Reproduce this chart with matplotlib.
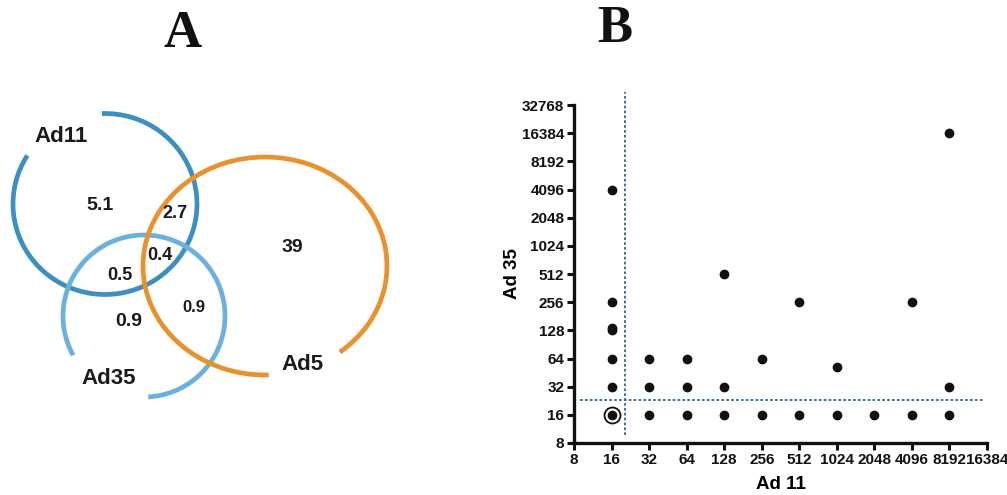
import numpy as np
import matplotlib
matplotlib.use("Agg")
import matplotlib.pyplot as plt
from matplotlib.patches import Arc

plt.rcParams['font.family'] = ['Liberation Sans', 'DejaVu Sans']

# Venn (panel A) - sets and region percentages
set_names = ['Ad11', 'Ad35', 'Ad5']
set_colors = ['#3d8fc0', '#6cb1dd', '#e8922e']
region_labels = ['5.1', '2.7', '0.4', '0.5', '39', '0.9', '0.9']

# Scatter (panel B) - titers
ad11 = [16, 16, 16, 16, 16, 16, 16,
        32, 32, 32,
        64, 64, 64,
        128, 128, 128,
        256, 256,
        512, 512,
        1024, 1024,
        2048,
        4096, 4096,
        8192, 8192, 8192]
ad35 = [4096, 256, 128, 136, 64, 32, 16,
        64, 32, 16,
        64, 32, 16,
        512, 32, 16,
        64, 16,
        256, 16,
        52, 16,
        16,
        256, 16,
        16384, 32, 16]
cutoff_x = 20.5
cutoff_y = 23
x_ticks = [8, 16, 32, 64, 128, 256, 512, 1024, 2048, 4096, 8192, 16384]
y_ticks = [8, 16, 32, 64, 128, 256, 512, 1024, 2048, 4096, 8192, 16384, 32768]

W, H = 1007, 495
fig = plt.figure(figsize=(W / 100, H / 100), dpi=100)

# ---- panel A, drawn in pixel coordinates (y up) ----
axv = fig.add_axes([0, 0, 1, 1])
axv.set_xlim(0, W)
axv.set_ylim(0, H)
axv.axis('off')

# (cx, cy, w, h, theta1, theta2) in pixels
arcs = [(105, H - 204, 184, 181, 148, 452),
        (144, H - 316, 162, 162, -87, 209),
        (265, H - 266, 244, 218, -49, 272)]
for (cx, cy, w, h, t1, t2), col in zip(arcs, set_colors):
    axv.add_patch(Arc((cx, cy), w, h, theta1=t1, theta2=t2,
                      color=col, lw=3.4))

name_pos = [(61, 136), (109, 378), (303, 365)]
for name, (x, y) in zip(set_names, name_pos):
    axv.text(x, H - y, name, ha='center', va='center',
             fontsize=16, fontweight='bold', color='#1a1a1a')

region_pos = [(100, 205), (175, 213), (160, 255), (120, 275),
              (292, 248), (129, 322), (194, 307)]
region_size = [14, 13, 13, 13, 14, 14, 12]
for lab, (x, y), fs in zip(region_labels, region_pos, region_size):
    axv.text(x, H - y, lab, ha='center', va='center',
             fontsize=fs, fontweight='bold', color='#1a1a1a')

axv.text(183, H - 34, 'A', ha='center', va='center', fontsize=38,
         fontweight='bold', family='Liberation Serif', color='#111')
axv.text(615, H - 29, 'B', ha='center', va='center', fontsize=38,
         fontweight='bold', family='Liberation Serif', color='#111')

# ---- panel B ----
ax = fig.add_axes([574 / W, 52 / H, 413 / W, 338 / H])
ax.set_xscale('log', base=2)
ax.set_yscale('log', base=2)
ax.set_xlim(8, 16384)
ax.set_ylim(8, 32768)

ax.plot(ad11, ad35, 'o', color='#111', ms=6, mec='#111', zorder=3,
        clip_on=False)
# circled point
ax.plot([16], [16], 'o', ms=11.5, mfc='none', mec='#111', mew=1.3,
        zorder=3)

dash_col = '#2a6a86'
ax.plot([cutoff_x, cutoff_x], [9.7, 45000], color=dash_col, lw=1.3,
        ls=(0, (1.5, 1.2)), clip_on=False, zorder=2)
ax.plot([8.9, 15200], [cutoff_y, cutoff_y], color=dash_col, lw=1.3,
        ls=(0, (1.5, 1.2)), clip_on=False, zorder=2)

for s in ['top', 'right']:
    ax.spines[s].set_visible(False)
for s in ['left', 'bottom']:
    ax.spines[s].set_linewidth(2.4)
    ax.spines[s].set_color('#111')

ax.set_xticks(x_ticks)
ax.set_xticklabels([str(t) for t in x_ticks])
ax.set_yticks(y_ticks)
ax.set_yticklabels([str(t) for t in y_ticks])
ax.minorticks_off()
ax.tick_params(axis='both', length=5, width=2.2, color='#111', pad=2,
               labelsize=11)
for lab in ax.get_xticklabels() + ax.get_yticklabels():
    lab.set_fontweight('bold')
    lab.set_color('#111')

ax.set_xlabel('Ad 11', fontsize=13.5, fontweight='bold', labelpad=7)
ax.set_ylabel('Ad 35', fontsize=13.5, fontweight='bold', labelpad=1)

fig.savefig('out.png', dpi=100)
